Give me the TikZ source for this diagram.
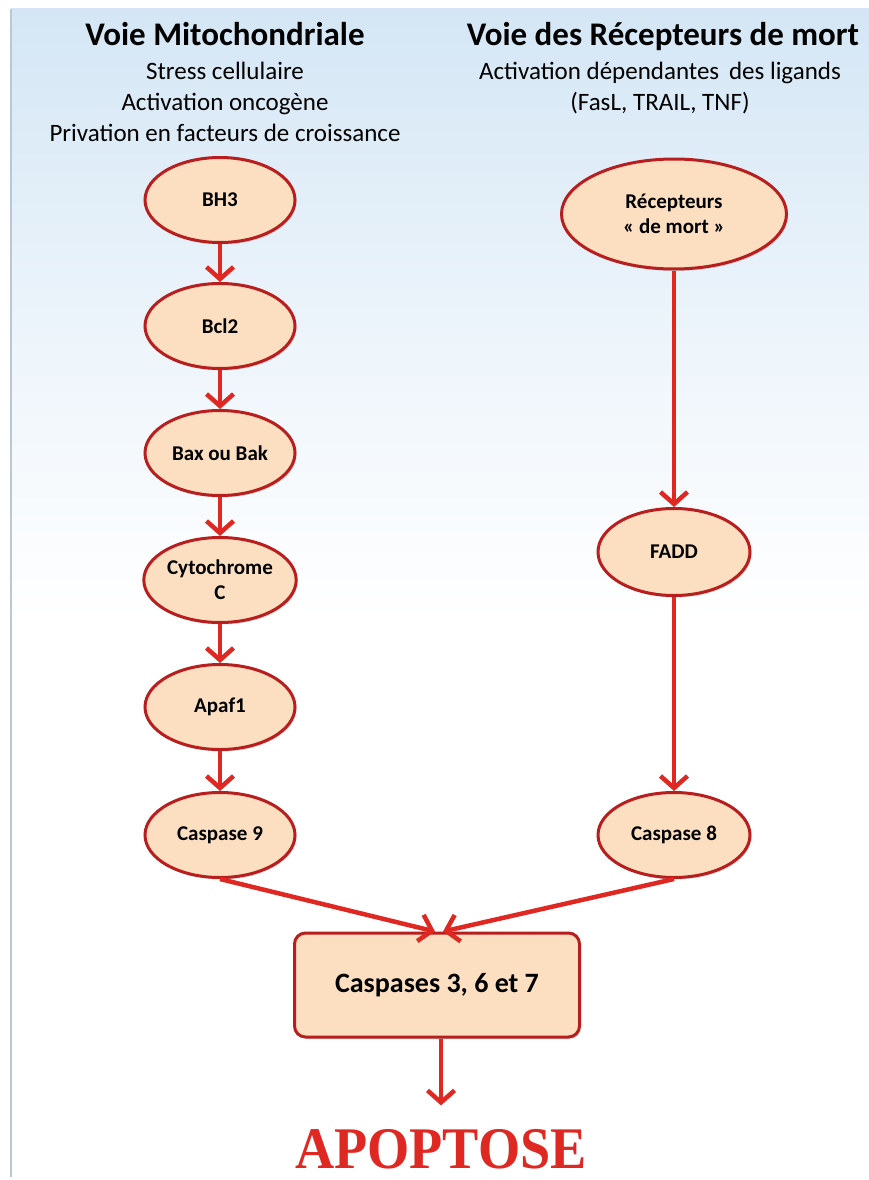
\documentclass[tikz,border=0pt]{standalone}
\usepackage{fontspec}
\setmainfont{Carlito}
\newfontfamily\apofont{Liberation Serif}
\usetikzlibrary{arrows.meta,shapes.geometric,shadows,positioning}
\definecolor{apored}{RGB}{224,40,34}
\definecolor{apodark}{RGB}{185,30,30}
\definecolor{apopeach}{RGB}{251,223,192}
\definecolor{apoblue}{RGB}{212,230,245}
\tikzset{
  step ellipse/.style={ellipse, draw=apodark, line width=3pt, fill=apopeach, inner sep=1pt,
    minimum width=150pt, minimum height=85pt,
    drop shadow={shadow xshift=1.5pt, shadow yshift=-2pt, opacity=0.3}, font=\fontsize{21}{25}\selectfont\bfseries, align=center},
  flow/.style={line width=4.5pt, color=apored, -{Straight Barb[length=12pt,width=27pt,line width=4.5pt]}},
}
\begin{document}
\begin{tikzpicture}[x=1pt, y=-1pt]
\useasboundingbox (0,0) rectangle (869,1180);
% background
\shade[top color=apoblue, bottom color=white, middle color=white!55!apoblue] (11,9) rectangle (869,620);
\fill[white] (11,620) rectangle (869,1177);
\draw[apoblue!70!gray, line width=1.2pt] (11,9) -- (11,1177);

% Titles
\node[font=\fontsize{33}{36}\selectfont\bfseries, anchor=base] (tleft) at (225,46) {Voie Mitochondriale};
\node[font=\fontsize{33}{36}\selectfont\bfseries, anchor=base] (tright) at (663,46) {Voie des Récepteurs de mort};
\node[font=\fontsize{25}{31}\selectfont, align=center, anchor=north] (sleft) at (225,59) {Stress cellulaire\\Activation oncogène\\Privation en facteurs de croissance};
\node[font=\fontsize{25}{31}\selectfont, align=center, anchor=north] (sright) at (660,59) {Activation dépendantes\, des ligands\\(FasL, TRAIL, TNF)};

% Mitochondrial pathway
\node[step ellipse] (bh3) at (220,200) {BH3};
\node[step ellipse] (bcl2) at (220,326) {Bcl2};
\node[step ellipse] (bax) at (220,453) {Bax ou Bak};
\node[step ellipse] (cyto) at (220,580) {Cytochrome\\C};
\node[step ellipse] (apaf) at (220,707) {Apaf1};
\node[step ellipse] (casp9) at (220,835) {Caspase 9};

% Death receptor pathway
\node[step ellipse, minimum width=225pt, minimum height=110pt] (recep) at (674,214) {Récepteurs\\« de mort »};
\node[step ellipse, minimum width=152pt, minimum height=87pt] (fadd) at (674,552) {FADD};
\node[step ellipse, minimum width=152pt, minimum height=85pt] (casp8) at (674,835) {Caspase 8};

% Executioner caspases
\node[draw=apodark, line width=3pt, fill=apopeach, rounded corners=11pt, minimum width=285pt, minimum height=104pt,
  drop shadow={shadow xshift=1.5pt, shadow yshift=-2pt, opacity=0.3}, font=\fontsize{28}{32}\selectfont\bfseries] (casp367) at (437,985) {Caspases 3, 6 et 7};
\node[font=\apofont\fontsize{59}{64}\selectfont\bfseries, text=apored, anchor=base] (apo) at (441,1168) {\scalebox{0.92}[1]{APOPTOSE}};

% Arrows
\draw[flow] (bh3) -- (bcl2);
\draw[flow] (bcl2) -- (bax);
\draw[flow] (bax) -- (cyto);
\draw[flow] (cyto) -- (apaf);
\draw[flow] (apaf) -- (casp9);
\draw[flow] (recep) -- (fadd);
\draw[flow] (fadd) -- (casp8);
\draw[flow] (casp9.south) -- ([xshift=-2pt]casp367.north);
\draw[flow] (casp8.south) -- ([xshift=6pt]casp367.north);
\draw[flow] ([xshift=4pt]casp367.south) -- ([yshift=20pt]apo.north);
\end{tikzpicture}
\end{document}
